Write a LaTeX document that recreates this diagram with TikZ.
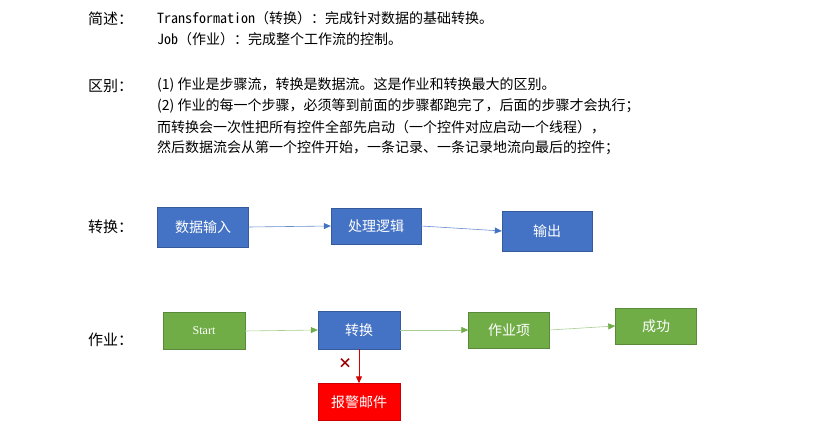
\documentclass[tikz,border=0pt]{standalone}
\usepackage{fontspec}
\setmainfont{Noto Sans CJK SC}
\newfontfamily\cjkmono{Noto Sans Mono CJK SC}
\newfontfamily\serifen{Liberation Serif}
\usetikzlibrary{arrows.meta}
\definecolor{bbox}{HTML}{4472C4}
\definecolor{gbox}{HTML}{70AD47}
\definecolor{rbox}{HTML}{FF0000}
\begin{document}
\begin{tikzpicture}[x=1pt,y=-1pt,
  blk/.style={draw=#1!80!black,fill=#1,text=white,minimum width=90pt,minimum height=38pt,inner sep=0pt,font=\fontsize{14}{16}\selectfont},
  lbl/.style={anchor=west,inner sep=0pt,font=\fontsize{15}{17}\selectfont},
  txt/.style={anchor=west,inner sep=0pt,font=\fontsize{14}{16}\selectfont},
  conn/.style={line width=0.6pt}]
\useasboundingbox (0,0) rectangle (829,430);
\node[lbl] (l1) at (88,19) {简述：};
\node[txt] (t1) at (157,18) {{\cjkmono Transformation}（转换）：完成针对数据的基础转换。};
\node[txt] (t2) at (157,39) {{\cjkmono Job}（作业）：完成整个工作流的控制。};
\node[lbl] (l2) at (88,86) {区别：};
\node[txt] (t3) at (157,85) {(1) 作业是步骤流，转换是数据流。这是作业和转换最大的区别。};
\node[txt] (t4) at (157,106) {(2) 作业的每一个步骤，必须等到前面的步骤都跑完了，后面的步骤才会执行；};
\node[txt] (t5) at (157,127) {而转换会一次性把所有控件全部先启动（一个控件对应启动一个线程），};
\node[txt] (t6) at (157,148) {然后数据流会从第一个控件开始，一条记录、一条记录地流向最后的控件；};
\node[lbl] (l3) at (88,227) {转换：};
\node[lbl] (l4) at (88,340) {作业：};
\node[blk=bbox,minimum width=91pt,minimum height=40pt] (a) at (203,227) {数据输入};
\node[blk=bbox,minimum width=90pt,minimum height=36pt] (b) at (376,226) {处理逻辑};
\node[blk=bbox,minimum width=90pt,minimum height=40pt] (c) at (547,231) {输出};
\node[blk=gbox,minimum width=82pt,minimum height=37pt,font=\fontsize{12}{14}\selectfont\serifen] (s) at (204,331) {Start};
\node[blk=bbox,minimum width=82pt,minimum height=38pt] (z) at (359,330) {转换};
\node[blk=gbox,minimum width=81pt,minimum height=36pt] (j) at (509,330) {作业项};
\node[blk=gbox,minimum width=81pt,minimum height=36pt] (g) at (656,326) {成功};
\node[blk=rbox,minimum width=82pt,minimum height=37pt] (m) at (359,402) {报警邮件};
\draw[conn,draw=bbox!80,-{Triangle[length=7pt,width=6pt,color=bbox]}] (a.east) -- (b.west);
\draw[conn,draw=bbox!80,-{Triangle[length=7pt,width=6pt,color=bbox]}] (b.east) -- (c.west);
\draw[conn,draw=gbox!60,-{Triangle[length=7pt,width=6pt,color=gbox]}] (s.east) -- (z.west);
\draw[conn,draw=gbox!60,-{Triangle[length=7pt,width=6pt,color=gbox]}] (z.east) -- (j.west);
\draw[conn,draw=gbox!60,-{Triangle[length=7pt,width=6pt,color=gbox]}] (j.east) -- (g.west);
\draw[line width=1pt,draw=rbox!85!black,-{Triangle[length=7pt,width=6pt]}] (z.south) -- (m.north);
\node[text=red!60!black,font=\bfseries\fontsize{14}{14}\selectfont,inner sep=0pt] (x) at (345,363) {×};
\end{tikzpicture}
\end{document}
